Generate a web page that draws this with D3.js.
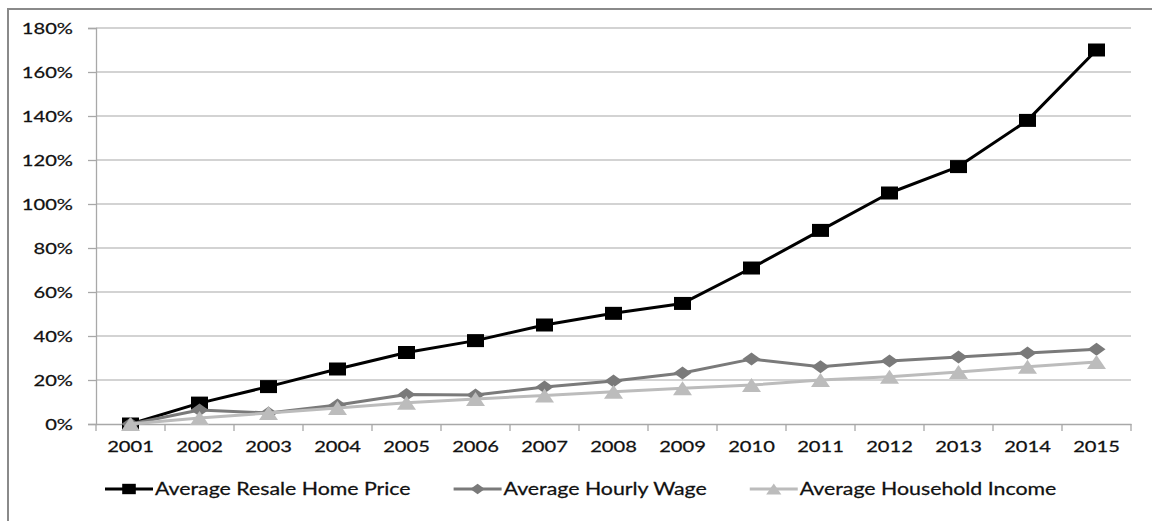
<!DOCTYPE html>
<html>
<head>
<meta charset="utf-8">
<script src="https://cdn.jsdelivr.net/npm/d3@7"></script>
<style>
  html, body { margin: 0; padding: 0; background: #fff; }
  svg { display: block; }
  text { font-family: Lato, "Open Sans", sans-serif; fill: #111; stroke: #111; stroke-width: 0.25px; }
</style>
</head>
<body>
<svg id="chart" width="1152" height="521"></svg>
<script>
const years = ["2001","2002","2003","2004","2005","2006","2007","2008","2009","2010","2011","2012","2013","2014","2015"];
const homePrice = [0, 9.5, 17, 25, 32.5, 37.9, 45, 50.3, 54.8, 70.9, 88, 105, 117, 138, 170];
const hourlyWage = [0, 6.4, 5, 8.6, 13.4, 13.2, 16.8, 19.5, 23.2, 29.5, 26, 28.6, 30.5, 32.3, 34];
const householdIncome = [0, 2.7, 5, 7.3, 9.7, 11.4, 13, 14.7, 16.2, 17.7, 20, 21.5, 23.6, 26, 28.2];
const yTicks = [0, 20, 40, 60, 80, 100, 120, 140, 160, 180];
const seriesNames = ["Average Resale Home Price", "Average Hourly Wage", "Average Household Income"];

const SX = 1.3; // horizontal stretch of the original rendering
const svg = d3.select("#chart");

// frame
svg.append("path").attr("d", "M8,521V9H1152").attr("fill", "none")
  .attr("stroke", "#8a8a8a").attr("stroke-width", 2);

const x = d3.scaleBand().domain(years).range([96, 1131]);
const y = d3.scaleLinear().domain([0, 180]).range([424, 28]);
const cx = d => x(d) + x.bandwidth() / 2;

// gridlines
svg.append("g").selectAll("line").data(yTicks.filter(t => t > 0)).join("line")
  .attr("x1", 96).attr("x2", 1131)
  .attr("y1", d => y(d)).attr("y2", d => y(d))
  .attr("stroke", "#c4c4c4").attr("stroke-width", 1.3);

// y axis
const yAxis = svg.append("g").attr("transform", "translate(96,0)")
  .call(d3.axisLeft(y).tickValues(yTicks).tickSize(8).tickPadding(15).tickFormat(d => d + "%"));
yAxis.select(".domain").attr("stroke", "#a8a8a8").attr("stroke-width", 1.3);
yAxis.selectAll(".tick line").attr("stroke", "#a8a8a8").attr("stroke-width", 1.3);
yAxis.selectAll(".tick text")
  .attr("x", null).attr("dy", null)
  .attr("transform", "translate(-23,5) scale(" + SX + ",1)")
  .style("font-size", "15.5px").style("font-family", "Lato, sans-serif");

// x axis
const xAxis = svg.append("g").attr("transform", "translate(0,424)")
  .call(d3.axisBottom(x).tickSize(0).tickPadding(0));
xAxis.select(".domain").attr("stroke", "#a8a8a8").attr("stroke-width", 1.3);
xAxis.selectAll(".tick text")
  .attr("y", null).attr("dy", null)
  .attr("transform", "translate(0,28) scale(" + SX + ",1)")
  .style("font-size", "15.5px").style("font-family", "Lato, sans-serif");
// boundary tick marks
const bounds = years.map(d => x(d)).concat([x.range()[1]]);
svg.append("g").selectAll("line").data(bounds).join("line")
  .attr("x1", d => d).attr("x2", d => d).attr("y1", 424).attr("y2", 431)
  .attr("stroke", "#a8a8a8").attr("stroke-width", 1.3);

const series = [
  { name: seriesNames[0], values: homePrice, color: "#000000", marker: "square" },
  { name: seriesNames[1], values: hourlyWage, color: "#7a7a7a", marker: "diamond" },
  { name: seriesNames[2], values: householdIncome, color: "#bcbcbc", marker: "triangle" }
];

function markerPath(type, w, h) {
  if (type === "square") return `M${-w/2},${-h/2}h${w}v${h}h${-w}Z`;
  if (type === "diamond") return `M0,${-h/2}L${w/2},0L0,${h/2}L${-w/2},0Z`;
  return `M0,${-h/2}L${w/2},${h/2}L${-w/2},${h/2}Z`;
}
const markerSize = { square: [17, 13], diamond: [18, 13], triangle: [19, 14] };

const line = d3.line().x((d, i) => cx(years[i])).y(d => y(d));

series.forEach(s => {
  const g = svg.append("g");
  g.append("path").datum(s.values).attr("d", line)
    .attr("fill", "none").attr("stroke", s.color).attr("stroke-width", 3)
    .attr("stroke-linejoin", "round");
  const [w, h] = markerSize[s.marker];
  g.selectAll("path.m").data(s.values).join("path").attr("class", "m")
    .attr("d", markerPath(s.marker, w, h))
    .attr("transform", (d, i) => `translate(${cx(years[i])},${y(d)})`)
    .attr("fill", s.color);
});

// legend
const legendY = 489;
let lx = 105;
series.forEach(s => {
  const g = svg.append("g");
  g.append("line").attr("x1", lx).attr("x2", lx + 48).attr("y1", legendY).attr("y2", legendY)
    .attr("stroke", s.color).attr("stroke-width", 3);
  const [w, h] = markerSize[s.marker];
  g.append("path").attr("d", markerPath(s.marker, w * 0.8, h * 0.8))
    .attr("transform", `translate(${lx + 24},${legendY})`).attr("fill", s.color);
  const t = g.append("text").text(s.name)
    .attr("transform", `translate(${lx + 50},${legendY + 6}) scale(${SX},1)`)
    .style("font-size", "16.4px");
  const tw = t.node().getComputedTextLength() * SX;
  lx = lx + 50 + tw + 43;
});
</script>
</body>
</html>
